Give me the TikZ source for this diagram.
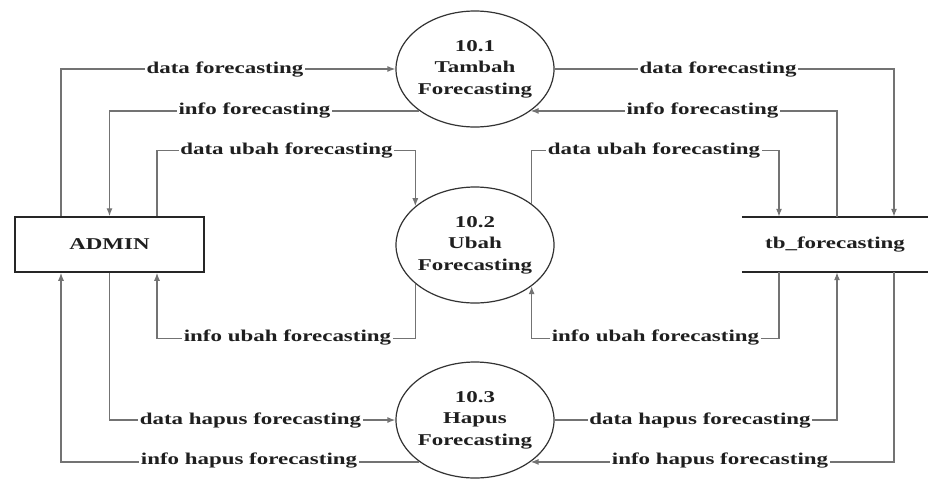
\documentclass[tikz,border=0pt]{standalone}
\usepackage{fontspec}
\setmainfont{Liberation Serif}
\usetikzlibrary{arrows.meta,shapes.geometric}
\newcommand{\wide}[1]{\scalebox{1.39}[1]{#1}}
\begin{document}
\begin{tikzpicture}[x=1pt,y=-1pt,
  txt/.style={font=\fontsize{16.5}{21.5}\selectfont\bfseries, text=black!88},
  flow/.style={draw=black!55, line width=1.3pt, -{Latex[length=8pt,width=6pt]}},
  proc/.style={ellipse, draw=black!80, line width=1.2pt, minimum width=158pt, minimum height=116pt, inner sep=0pt},
  ptext/.style={txt, align=center, inner sep=0pt},
  ent/.style={txt, rectangle, draw=black!85, line width=1.5pt, minimum width=189pt, minimum height=55pt},
  store/.style={txt, rectangle, minimum width=186pt, minimum height=55pt},
  storeline/.style={draw=black!85, line width=1.5pt},
  lab/.style={txt, fill=white, inner xsep=1.5pt, inner ysep=1pt, anchor=base}]
\useasboundingbox[fill=white] (0,0) rectangle (928,483);

% nodes
\node[ent] (admin) at (109.5,244.5) {\wide{ADMIN}};
\node[store] (tb) at (835,244.5) {\wide{tb\_forecasting}};
\draw[storeline] (tb.north west) -- (tb.north east);
\draw[storeline] (tb.south west) -- (tb.south east);

\node[proc] (p1) at (475,69) {};
\node[ptext] (t1) at (p1) {\wide{10.1}\\\wide{Tambah}\\\wide{Forecasting}};
\node[proc] (p2) at (475,245) {};
\node[ptext] (t2) at (p2) {\wide{10.2}\\\wide{Ubah}\\\wide{Forecasting}};
\node[proc] (p3) at (475,420) {};
\node[ptext] (t3) at (p3) {\wide{10.3}\\\wide{Hapus}\\\wide{Forecasting}};

% connectors
\draw[flow] ([xshift=-48.5pt]admin.north) |- (p1.west);
\draw[flow] (p1.217) -| (admin.north);
\draw[flow] ([xshift=47.5pt]admin.north) -- ++(0,-66) -| (p2.147);
\draw[flow] (p1.east) -| ([xshift=59pt]tb.north);
\draw[flow] ([xshift=2pt]tb.north) |- (p1.323);
\draw[flow] (p2.36) -- ++(0,-53) -| ([xshift=-56pt]tb.north);
\draw[flow] ([xshift=-56pt]tb.south) -- ++(0,66) -| (p2.324);
\draw[flow] (p2.213) -- ++(0,54.5) -| ([xshift=47.5pt]admin.south);
\draw[flow] (admin.south) |- (p3.west);
\draw[flow] (p3.217) -| ([xshift=-48.5pt]admin.south);
\draw[flow] (p3.east) -| ([xshift=2pt]tb.south);
\draw[flow] ([xshift=59pt]tb.south) |- (p3.323);

% labels
\node[lab] (l1) at (225,73.5) {\wide{data forecasting}};
\node[lab] (l2) at (254.5,114.5) {\wide{info forecasting}};
\node[lab] (l3) at (286.5,154.5) {\wide{data ubah forecasting}};
\node[lab] (l4) at (718,73.5) {\wide{data forecasting}};
\node[lab] (l5) at (702.5,114.5) {\wide{info forecasting}};
\node[lab] (l6) at (654,154.5) {\wide{data ubah forecasting}};
\node[lab] (l7) at (655.5,341.5) {\wide{info ubah forecasting}};
\node[lab] (l8) at (287.5,341.5) {\wide{info ubah forecasting}};
\node[lab] (l9) at (250.5,424.5) {\wide{data hapus forecasting}};
\node[lab] (l10) at (249,464.5) {\wide{info hapus forecasting}};
\node[lab] (l11) at (700,424.5) {\wide{data hapus forecasting}};
\node[lab] (l12) at (720,464.5) {\wide{info hapus forecasting}};
\end{tikzpicture}
\end{document}
